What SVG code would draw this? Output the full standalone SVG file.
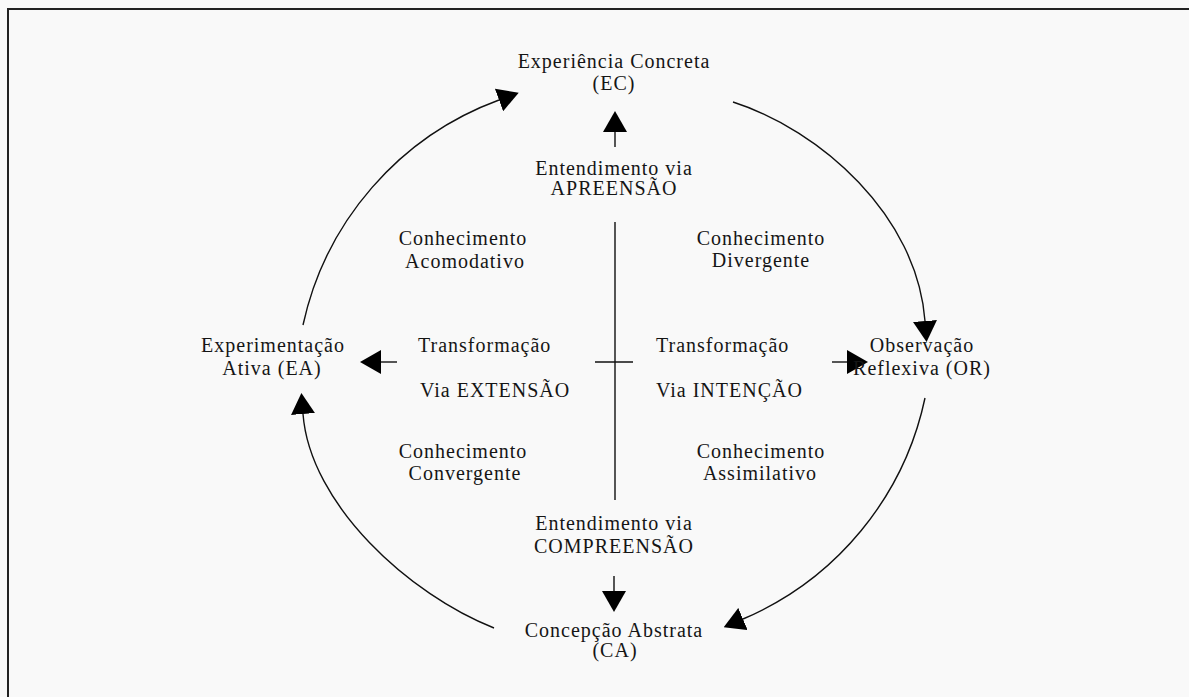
<svg xmlns="http://www.w3.org/2000/svg" width="1189" height="697" viewBox="0 0 1189 697">
<defs>
<style>
text{font-family:"Liberation Serif","Times New Roman",serif;font-size:20px;fill:#151515;letter-spacing:1px}
.c{text-anchor:middle}
.s{text-anchor:start}
.ln{fill:none;stroke:#111;stroke-width:1.4}
</style>
<marker id="ah" markerUnits="userSpaceOnUse" markerWidth="21" markerHeight="24" refX="0" refY="12" orient="auto" viewBox="0 0 21 24">
<path d="M0,0 L21,12 L0,24 z" fill="#000"/>
</marker>
</defs>
<rect width="1189" height="697" fill="#f9f9f9"/>
<rect x="8" y="9" width="1200" height="700" fill="none" stroke="#222" stroke-width="2"/>
<g id="connectors">
<path class="ln" d="M 303 325 A 310 310 0 0 1 499 100" marker-end="url(#ah)"/>
<path class="ln" d="M 733 102 C 820 130 917 215 925 321" marker-end="url(#ah)"/>
<path class="ln" d="M 925 398 A 310 310 0 0 1 743 619" marker-end="url(#ah)"/>
<path class="ln" d="M 494 628 C 410 595 310 505 303 414" marker-end="url(#ah)"/>
<line class="ln" x1="615" y1="147" x2="615" y2="132" marker-end="url(#ah)"/>
<line class="ln" x1="397" y1="362" x2="381" y2="362" marker-end="url(#ah)"/>
<line class="ln" x1="832" y1="362" x2="847" y2="362" marker-end="url(#ah)"/>
<line class="ln" x1="614" y1="576" x2="614" y2="591" marker-end="url(#ah)"/>
<line class="ln" x1="615" y1="222" x2="615" y2="500"/>
<line class="ln" x1="595" y1="362" x2="633" y2="362"/>
</g>
<g id="EC"><text class="c" x="614" y="68">Experiência Concreta</text><text class="c" x="614" y="90">(EC)</text></g>
<g id="apreensao"><text class="c" x="614" y="175">Entendimento via</text><text class="c" x="614" y="195">APREENSÃO</text></g>
<g id="acomodativo"><text class="c" x="463" y="245">Conhecimento</text><text class="c" x="465" y="268">Acomodativo</text></g>
<g id="divergente"><text class="c" x="761" y="245">Conhecimento</text><text class="c" x="761" y="267">Divergente</text></g>
<g id="EA"><text class="c" x="273" y="352">Experimentação</text><text class="c" x="272" y="375">Ativa (EA)</text></g>
<g id="extensao"><text class="s" x="418" y="352">Transformação</text><text class="s" x="420" y="397">Via EXTENSÃO</text></g>
<g id="intencao"><text class="s" x="656" y="352">Transformação</text><text class="s" x="656" y="397">Via INTENÇÃO</text></g>
<g id="OR"><text class="c" x="922" y="352">Observação</text><text class="c" x="922" y="375">Reflexiva (OR)</text></g>
<g id="convergente"><text class="c" x="463" y="458">Conhecimento</text><text class="c" x="465" y="480">Convergente</text></g>
<g id="assimilativo"><text class="c" x="761" y="458">Conhecimento</text><text class="c" x="760" y="480">Assimilativo</text></g>
<g id="compreensao"><text class="c" x="614" y="530">Entendimento via</text><text class="c" x="614" y="553">COMPREENSÃO</text></g>
<g id="CA"><text class="c" x="614" y="637">Concepção Abstrata</text><text class="c" x="615" y="657">(CA)</text></g>
</svg>
